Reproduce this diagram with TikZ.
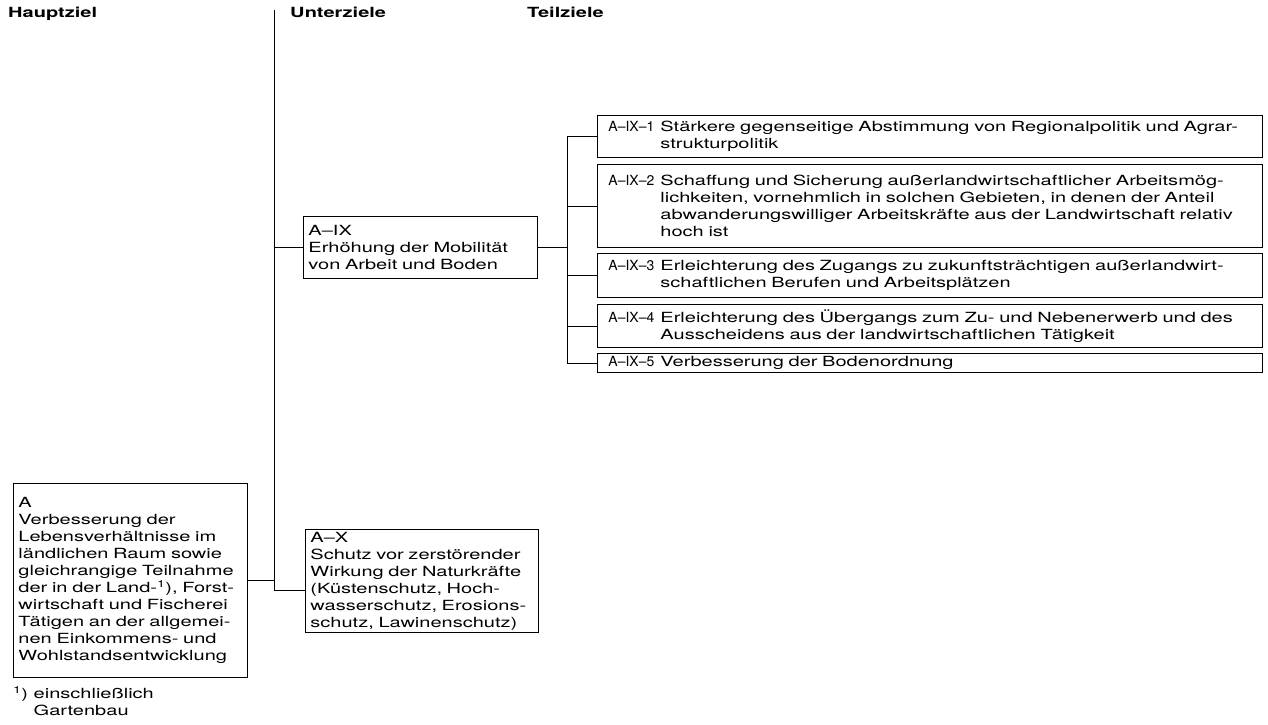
\documentclass[tikz,border=0pt]{standalone}
\usepackage{fontspec}
\setmainfont{TeX Gyre Heros}[FakeStretch=1.43]
\newfontfamily\nrfont{TeX Gyre Heros}[FakeStretch=1.0]
\newcommand{\zielfont}{\fontsize{14}{17}\selectfont}
% justified line in a Teilziel box
\newcommand{\jz}[1]{\makebox[\linewidth][s]{#1}}
% number column plus text column
\newcommand{\tzeile}[2]{\makebox[52pt][l]{\nrfont #1}\parbox[t]{588pt}{#2}}

\begin{document}
\begin{tikzpicture}[x=1pt,y=-1pt,
    ziel/.style={draw, line width=0.9pt, anchor=north west, align=left,
                 font=\zielfont, inner xsep=5pt, inner ysep=2pt},
    teil/.style={ziel, text width=643pt, inner xsep=11pt},
    kopf/.style={anchor=base west, font=\zielfont\bfseries, inner sep=0pt},
    linie/.style={line width=0.9pt}]
    \useasboundingbox (0,0) rectangle (1268,724);

    % Column headings
    \node[kopf] (hz) at (8,17) {Hauptziel};
    \node[kopf] (uz) at (290,17) {Unterziele};
    \node[kopf] (tz) at (527,17) {Teilziele};

    % Hauptziel
    \node[ziel, text width=224pt, minimum height=194pt] (a) at (13,483)
        {A\\Verbesserung der\\Lebensverhältnisse im\\ländlichen Raum sowie\\gleichrangige Teilnahme\\der in der Land-\textsuperscript{1}), Forst-\\wirtschaft und Fischerei\\Tätigen an der allgemei-\\nen Einkommens- und\\Wohlstandsentwicklung};
    \node[anchor=north west, font=\zielfont, inner sep=0pt, align=left] (fn) at (13,686)
        {\textsuperscript{1}) einschließlich\\\phantom{\textsuperscript{1}) }Gartenbau};

    % Unterziele
    \node[ziel, text width=224pt, minimum height=62pt] (aix) at (303,216)
        {A–IX\\Erhöhung der Mobilität\\von Arbeit und Boden};
    \node[ziel, text width=223pt, minimum height=103pt] (ax) at (305,529)
        {A–X\\Schutz vor zerstörender\\Wirkung der Naturkräfte\\(Küstenschutz, Hoch-\\wasserschutz, Erosions-\\schutz, Lawinenschutz)};

    % Teilziele
    \node[teil, minimum height=42pt] (t1) at (597,115)
        {\tzeile{A–IX–1}{Stärkere gegenseitige Abstimmung von Regionalpolitik und Agrar-\\strukturpolitik}};
    \node[teil, minimum height=83pt] (t2) at (597,164)
        {\tzeile{A–IX–2}{\jz{Schaffung und Sicherung außerlandwirtschaftlicher Arbeitsmög-}\\\jz{lichkeiten, vornehmlich in solchen Gebieten, in denen der Anteil}\\\jz{abwanderungswilliger Arbeitskräfte aus der Landwirtschaft relativ}\\hoch ist}};
    \node[teil, minimum height=44pt] (t3) at (597,253)
        {\tzeile{A–IX–3}{\jz{Erleichterung des Zugangs zu zukunftsträchtigen außerlandwirt-}\\schaftlichen Berufen und Arbeitsplätzen}};
    \node[teil, minimum height=43pt] (t4) at (597,304)
        {\tzeile{A–IX–4}{Erleichterung des Übergangs zum Zu- und Nebenerwerb und des\\Ausscheidens aus der landwirtschaftlichen Tätigkeit}};
    \node[teil, minimum height=19pt, inner ysep=1pt] (t5) at (597,353)
        {\tzeile{A–IX–5}{Verbesserung der Bodenordnung}};

    % Connectors
    \coordinate (stamm) at (274,10);
    \coordinate (ast) at (567,0);
    \draw[linie] (stamm) |- ([yshift=-9pt]ax.west);
    \draw[linie] (a.east) -- (a.east -| stamm);
    \draw[linie] (aix.west -| stamm) -- (aix.west);
    \draw[linie] (aix.east) -- (aix.east -| ast);
    \draw[linie] (t1.west -| ast) -- (t5.west -| ast);
    \foreach \i in {1,...,5} {
        \draw[linie] (t\i.west -| ast) -- (t\i.west);
    }
\end{tikzpicture}
\end{document}
